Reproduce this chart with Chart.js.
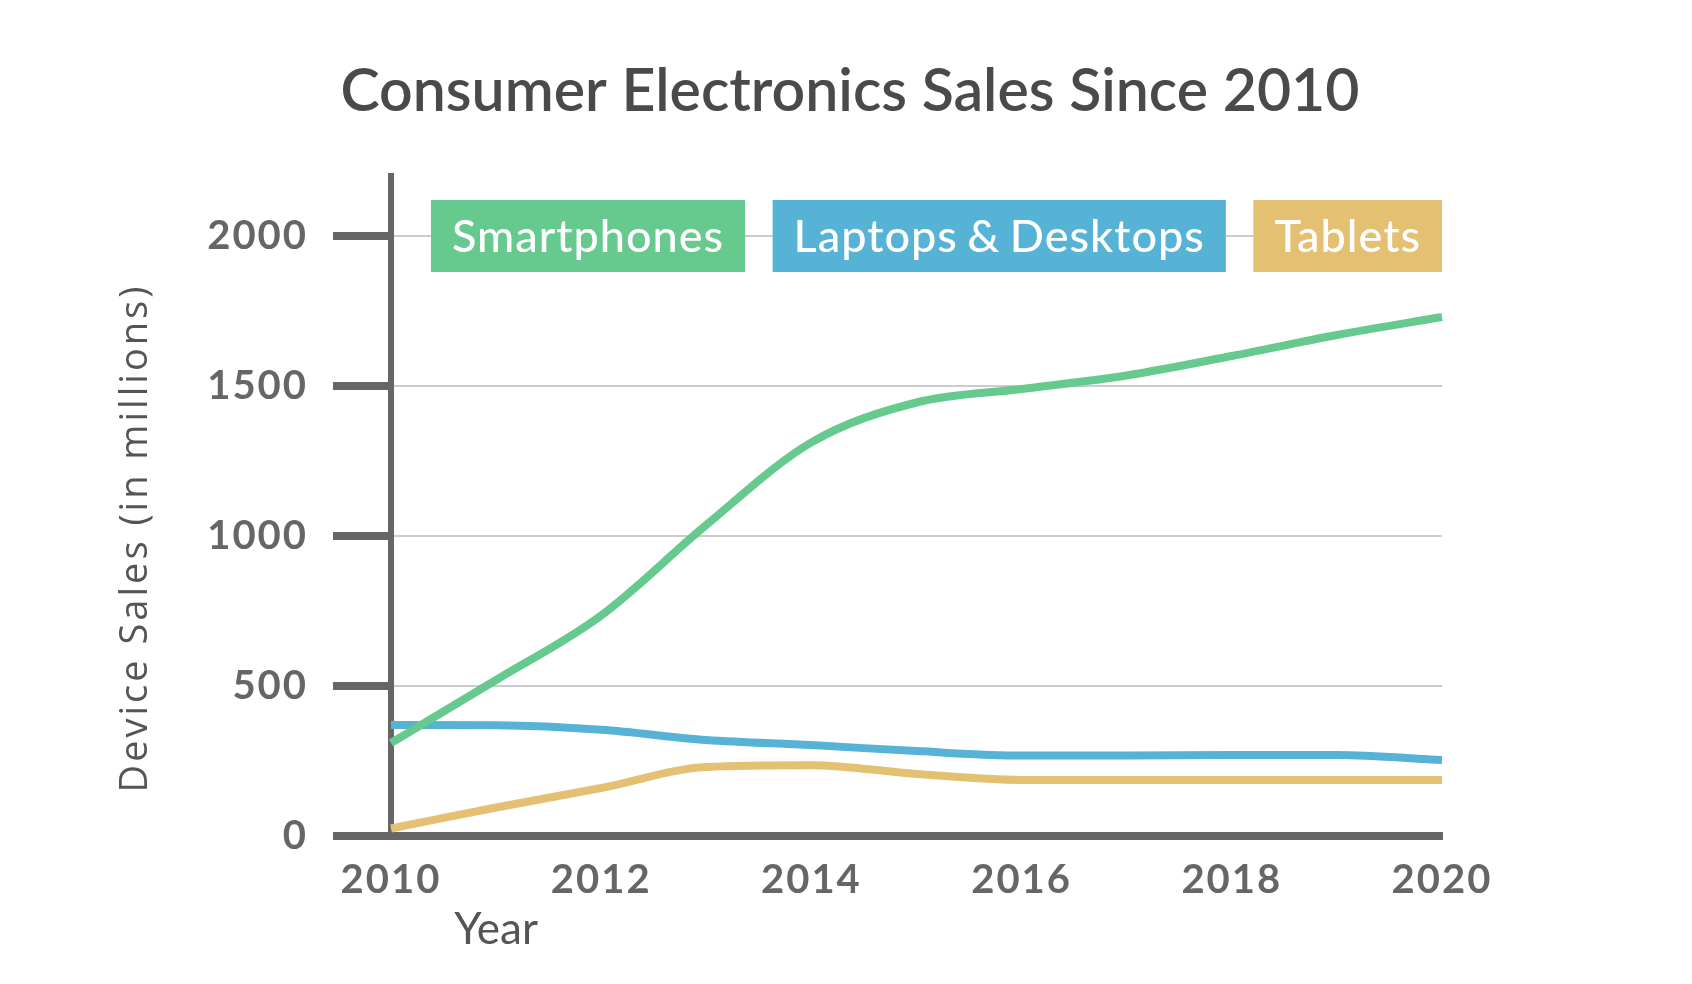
<!DOCTYPE html>
<html>
<head>
<meta charset="utf-8">
<title>Consumer Electronics Sales Since 2010</title>
<script src="https://cdn.jsdelivr.net/npm/chart.js@4.4.1/dist/chart.umd.min.js"></script>
<style>
  html, body { margin: 0; padding: 0; background: #fff; }
  #wrap { width: 1692px; height: 984px; }
</style>
</head>
<body>
<div id="wrap"><canvas id="salesChart" width="1692" height="984"></canvas></div>
<script>
'use strict';

// x axis categories
const years = ['2010', '2011', '2012', '2013', '2014', '2015', '2016', '2017', '2018', '2019', '2020'];
// series names, in legend order
const seriesNames = ['Smartphones', 'Laptops & Desktops', 'Tablets'];
// device sales in millions
const smartphones = [310, 520, 735, 1037, 1312, 1445, 1490, 1535, 1600, 1670, 1730];
const laptops = [370, 369, 354, 320, 303, 283, 268, 268, 270, 270, 253];
const tablets = [25, 95, 160, 230, 236, 207, 187, 187, 187, 187, 187];
// y axis range and tick labels
const yMax = 2200;
const yTicks = [0, 500, 1000, 1500, 2000];
// the legend sits on this gridline
const legendRow = 2000;

const chartTitle = 'Consumer Electronics Sales Since 2010';
const colors = ['#66c98e', '#56b3d6', '#e4c072'];
const seriesData = [smartphones, laptops, tablets];

// tick labels in the picture are a little spaced out
const spacing = {
  id: 'spacing',
  beforeDraw(chart) {
    chart.ctx.letterSpacing = '2px';
  }
};

// draws the title, the boxed legend and the two axis titles
const overlay = {
  id: 'overlay',
  afterDraw(chart) {
    const ctx = chart.ctx;
    const area = chart.chartArea;
    const xs = chart.scales.x;
    const ys = chart.scales.y;

    // main title
    ctx.save();
    ctx.letterSpacing = '0px';
    ctx.font = '600 59px Lato';
    ctx.fillStyle = '#4a4a4a';
    ctx.textAlign = 'center';
    ctx.textBaseline = 'middle';
    ctx.fillText(chartTitle, chart.width / 2 + 4, 92);
    ctx.restore();

    // legend boxes, spread between left+40 and the right edge
    ctx.save();
    ctx.font = '500 45px Lato';
    ctx.letterSpacing = '1px';
    ctx.wordSpacing = '-3px';
    const padX = 21;
    const boxH = 72;
    const widths = chart.data.datasets.map(d => ctx.measureText(d.label).width + padX * 2);
    const left = area.left + 40;
    const right = area.right;
    const total = widths.reduce((a, b) => a + b, 0);
    const gap = (right - left - total) / (widths.length - 1);
    const cy = ys.getPixelForValue(legendRow);
    let x = left;
    chart.data.datasets.forEach((d, i) => {
      ctx.fillStyle = d.borderColor;
      ctx.fillRect(x, cy - boxH / 2, widths[i], boxH);
      ctx.fillStyle = '#ffffff';
      ctx.textAlign = 'center';
      ctx.textBaseline = 'middle';
      ctx.fillText(d.label, x + widths[i] / 2, cy + 1);
      x += widths[i] + gap;
    });
    ctx.restore();

    // "Year" sits under the 2011 slot
    ctx.save();
    ctx.letterSpacing = '0px';
    ctx.font = '400 44px Lato';
    ctx.fillStyle = '#555555';
    ctx.textAlign = 'center';
    ctx.textBaseline = 'middle';
    ctx.fillText('Year', xs.getPixelForValue(1), area.bottom + 94);
    ctx.restore();

    // rotated y title
    ctx.save();
    ctx.translate(area.left - 255, area.bottom - 298);
    ctx.rotate(-Math.PI / 2);
    ctx.font = '400 38px "Open Sans"';
    ctx.letterSpacing = '3px';
    ctx.fillStyle = '#555555';
    ctx.textAlign = 'center';
    ctx.textBaseline = 'middle';
    ctx.fillText('Device Sales (in millions)', 0, 0);
    ctx.restore();
  }
};

const datasets = seriesNames.map((name, i) => ({
  label: name,
  data: seriesData[i],
  borderColor: colors[i],
  backgroundColor: colors[i],
  borderWidth: 8,
  borderCapStyle: 'butt',
  pointRadius: 0,
  cubicInterpolationMode: 'monotone',
  fill: false
}));

const config = {
  type: 'line',
  data: { labels: years, datasets: datasets },
  options: {
    responsive: false,
    devicePixelRatio: 1,
    animation: false,
    layout: { padding: { left: 0, right: 250, top: 176, bottom: 0 } },
    plugins: {
      legend: { display: false },
      tooltip: { enabled: false },
      title: { display: false }
    },
    scales: {
      x: {
        type: 'category',
        offset: false,
        grid: { display: false, drawTicks: false },
        border: { display: true, color: '#666666', width: 8 },
        ticks: {
          autoSkip: false,
          maxRotation: 0,
          padding: 20,
          color: '#666666',
          font: { family: 'Lato', size: 40, weight: 'bold' },
          callback: (val, idx) => (idx % 2 === 0 ? years[idx] : '')
        },
        afterFit(scale) { scale.height = 148; }
      },
      y: {
        min: 0,
        max: yMax,
        grid: {
          color: '#cccccc',
          lineWidth: 2,
          tickLength: 58,
          tickWidth: 8,
          tickColor: '#666666'
        },
        border: { display: true, color: '#666666', width: 6 },
        ticks: {
          padding: 25,
          color: '#666666',
          font: { family: 'Lato', size: 40, weight: 'bold' },
          callback: v => String(v)
        },
        afterBuildTicks(scale) {
          scale.ticks = yTicks.map(v => ({ value: v }));
        },
        afterFit(scale) { scale.width = 391; }
      }
    }
  },
  plugins: [spacing, overlay]
};

const salesChart = new Chart(document.getElementById('salesChart'), config);
</script>
</body>
</html>
